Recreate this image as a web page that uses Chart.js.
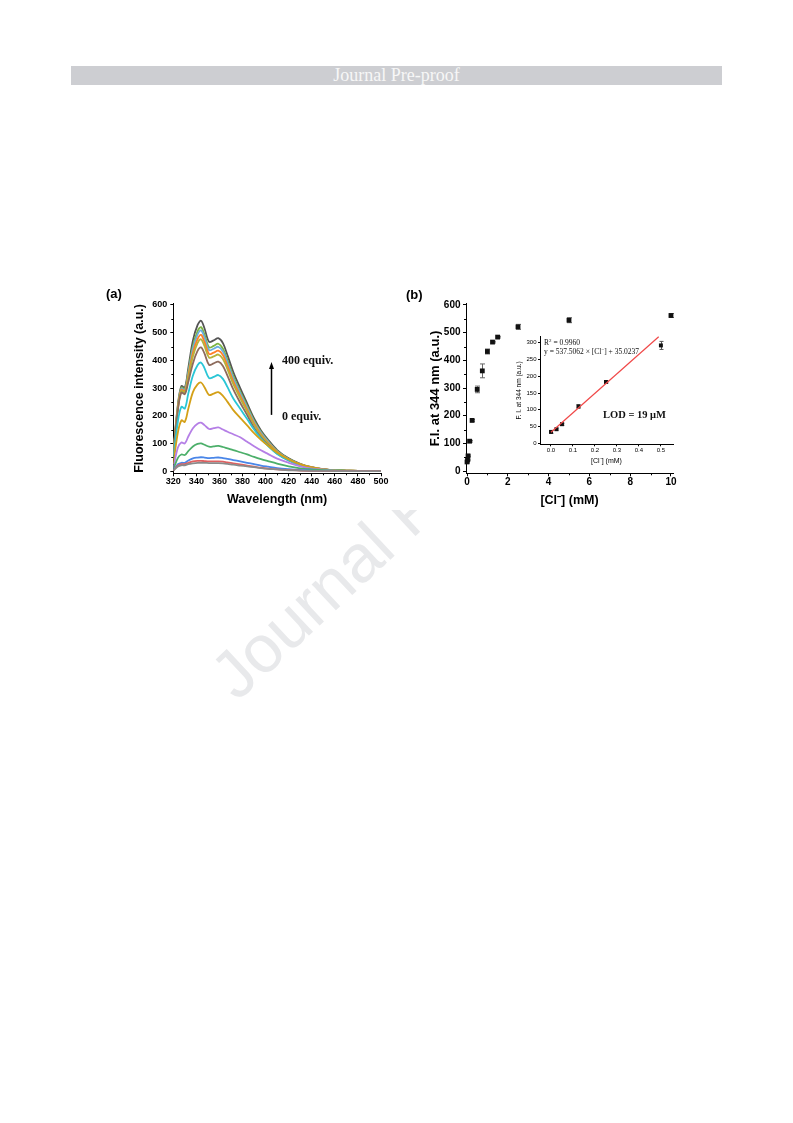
<!DOCTYPE html>
<html>
<head>
<meta charset="utf-8">
<script src="https://cdn.jsdelivr.net/npm/chart.js@4/dist/chart.umd.min.js"></script>
<style>
  body { margin: 0; background: #fff; }
  #page { position: relative; width: 793px; height: 1123px; overflow: hidden; background: #fff; }
  .abs { position: absolute; white-space: nowrap; line-height: 1; }
  #header { left: 71px; top: 66px; width: 651px; height: 19px; background: #cdced2; color: #f7f7f7;
    font: 18px "Liberation Serif", serif; text-align: center; line-height: 19px; }
  #watermark { left: 195px; top: 657px; font: 67px "Liberation Sans", Arial, sans-serif; color: #e8e9eb;
    transform-origin: 0 0; transform: rotate(-43deg); }
  #figure { left: 98px; top: 282px; width: 592px; height: 228px; background: #fff; }
  canvas { position: absolute; }
  .panel { font: bold 13px "Liberation Sans", Arial, sans-serif; transform: translateY(-50%); }
  .serif { font-family: "Liberation Serif", serif; color: #111; transform: translateY(-50%); }
</style>
</head>
<body>
<div id="page">
  <div id="header" class="abs">Journal Pre-proof</div>
  <div id="watermark" class="abs">Journal Pre-proof</div>
  <div id="figure" class="abs"></div>

  <canvas id="chartA" width="300" height="227" style="left:100px; top:280px;"></canvas>
  <canvas id="chartB" width="300" height="228" style="left:395px; top:280px;"></canvas>
  <canvas id="chartInset" width="180" height="135" style="left:500px; top:330px;"></canvas>

  <div class="abs panel" style="left:106px; top:293px;">(a)</div>
  <div class="abs panel" style="left:406px; top:294px;">(b)</div>

  <div class="abs serif" style="left:282px; top:360px; font-size:12px; font-weight:bold;">400 equiv.</div>
  <div class="abs serif" style="left:282px; top:416px; font-size:12px; font-weight:bold;">0 equiv.</div>

  <div class="abs serif" style="left:544px; top:342px; font-size:7.5px;">R<sup style="font-size:5px">2</sup> = 0.9960</div>
  <div class="abs serif" style="left:544px; top:351px; font-size:7.5px;">y = 537.5062 × [Cl<sup style="font-size:5px">−</sup>] + 35.0237</div>
  <div class="abs serif" style="left:603px; top:415px; font-size:10.5px; font-weight:bold;">LOD = 19 μM</div>
</div>

<script>
// (a) emission spectra, one curve per amount of Cl- added
const wavelengths = [320, 324, 327, 330, 333, 337, 341, 344, 347, 351, 355, 359, 363, 367, 372,
                     378, 384, 390, 396, 402, 410, 420, 430, 440, 450, 460, 470, 480, 490, 500];

const eq0   = [2, 17, 21, 21, 25, 28, 30, 30, 30, 29, 29, 29, 28, 26, 23, 20, 17, 14, 11, 8, 6, 3, 2, 1, 1, 0, 0, 0, 0, 0];
const eq1   = [2, 20, 25, 25, 30, 35, 37, 37, 36, 35, 35, 35, 34, 31, 28, 24, 20, 16, 12, 9, 6, 4, 2, 1, 1, 0, 0, 0, 0, 0];
const eq2   = [3, 25, 30, 30, 38, 46, 49, 50, 49, 47, 48, 49, 47, 44, 40, 35, 30, 25, 20, 16, 11, 7, 4, 2, 1, 1, 0, 0, 0, 0];
const eq5   = [5, 48, 60, 58, 72, 89, 98, 100, 95, 88, 89, 91, 87, 82, 76, 68, 60, 51, 43, 36, 27, 17, 10, 6, 3, 2, 1, 0, 0, 0];
const eq10  = [10, 85, 103, 100, 125, 155, 171, 175, 166, 152, 155, 158, 150, 142, 133, 122, 106, 90, 75, 62, 45, 30, 17, 9, 5, 2, 1, 1, 0, 0];
const eq20  = [25, 140, 183, 178, 225, 285, 313, 320, 303, 275, 280, 285, 272, 250, 220, 192, 165, 137, 113, 92, 66, 42, 24, 13, 6, 3, 1, 1, 0, 0];
const eq30  = [45, 180, 232, 226, 280, 345, 382, 392, 372, 336, 340, 347, 333, 303, 262, 225, 188, 150, 117, 91, 62, 38, 21, 11, 5, 3, 1, 1, 0, 0];
const eq40  = [58, 221, 284, 278, 322, 389, 434, 447, 425, 384, 389, 395, 380, 344, 295, 247, 202, 156, 121, 94, 63, 38, 21, 12, 6, 3, 1, 1, 0, 0];
const eq50  = [61, 226, 290, 284, 337, 414, 462, 476, 452, 410, 414, 421, 405, 367, 314, 263, 215, 167, 129, 100, 67, 40, 23, 12, 6, 3, 2, 1, 0, 0];
const eq60  = [63, 229, 294, 288, 345, 428, 477, 492, 467, 423, 428, 435, 419, 379, 324, 272, 222, 172, 133, 103, 69, 42, 24, 13, 6, 3, 2, 1, 0, 0];
const eq100 = [65, 232, 298, 292, 353, 442, 493, 508, 483, 437, 442, 449, 432, 391, 335, 281, 229, 178, 138, 107, 71, 43, 24, 13, 6, 3, 2, 1, 1, 0];
const eq200 = [67, 236, 302, 296, 360, 452, 505, 520, 494, 447, 452, 460, 442, 400, 343, 287, 235, 182, 141, 109, 73, 44, 25, 13, 6, 3, 2, 1, 1, 0];
const eq400 = [70, 240, 307, 301, 372, 472, 527, 543, 516, 467, 472, 480, 462, 418, 358, 300, 245, 190, 147, 114, 76, 46, 26, 14, 7, 3, 2, 1, 1, 0];

const spectra = [eq0, eq1, eq2, eq5, eq10, eq20, eq30, eq40, eq50, eq60, eq100, eq200, eq400];
const spectraColors = ['#8a8a8a', '#e06060', '#4a86e8', '#4caf6a', '#b57fe6', '#d4a017', '#2ac6d6',
                       '#8d6b5c', '#b8b23a', '#ff7f27', '#6aaee0', '#7cb342', '#555555'];

// (b) F.I. at 344 nm against [Cl-]
const clConc = [0, 0.025, 0.05, 0.125, 0.25, 0.5, 0.75, 1.0, 1.25, 1.5, 2.5, 5, 10];
const fiValues = [33, 40, 55, 108, 183, 295, 362, 432, 466, 484, 521, 545, 562];
const fiErrors = [4, 3, 3, 3, 3, 12, 25, 9, 3, 3, 9, 9, 7];

// inset: linear range
const insetConc = [0, 0.025, 0.05, 0.125, 0.25, 0.5];
const insetValues = [34, 42, 57, 110, 183, 292];
const insetErrors = [4, 3, 3, 5, 3, 12];
const fitX = [0, 0.49];
const fitY = [33, 318];

// tick marks
const ticksA = { x: [330, 350, 370, 390, 410, 430, 450, 470, 490], y: [50, 150, 250, 350, 450, 550] };
const ticksB = { x: [1, 3, 5, 7, 9], y: [50, 150, 250, 350, 450, 550] };

const SANS = '"Liberation Sans", Arial, sans-serif';
Chart.defaults.font.family = SANS;
Chart.defaults.color = '#000';

const minorTicks = {
  id: 'minorTicks',
  afterDraw(chart, args, opts) {
    const { ctx, chartArea, scales } = chart;
    ctx.save();
    ctx.strokeStyle = '#000';
    ctx.lineWidth = 1;
    ctx.beginPath();
    (opts.x || []).forEach(v => {
      const px = Math.round(scales.x.getPixelForValue(v)) + 0.5;
      ctx.moveTo(px, chartArea.bottom);
      ctx.lineTo(px, chartArea.bottom + opts.len);
    });
    (opts.y || []).forEach(v => {
      const py = Math.round(scales.y.getPixelForValue(v)) + 0.5;
      ctx.moveTo(chartArea.left, py);
      ctx.lineTo(chartArea.left - opts.len, py);
    });
    ctx.stroke();
    ctx.restore();
  }
};

const errorBars = {
  id: 'errorBars',
  beforeDatasetsDraw(chart, args, opts) {
    const { ctx, scales } = chart;
    chart.data.datasets.forEach(ds => {
      if (!ds.errors) return;
      ctx.save();
      ctx.strokeStyle = opts.color;
      ctx.lineWidth = 1;
      ds.data.forEach((p, i) => {
        const x = Math.round(scales.x.getPixelForValue(p.x)) + 0.5;
        const y1 = scales.y.getPixelForValue(p.y - ds.errors[i]);
        const y2 = scales.y.getPixelForValue(p.y + ds.errors[i]);
        ctx.beginPath();
        ctx.moveTo(x, y1); ctx.lineTo(x, y2);
        ctx.moveTo(x - opts.cap, y1); ctx.lineTo(x + opts.cap, y1);
        ctx.moveTo(x - opts.cap, y2); ctx.lineTo(x + opts.cap, y2);
        ctx.stroke();
      });
      ctx.restore();
    });
  }
};

const arrow = {
  id: 'arrow',
  afterDraw(chart, args, opts) {
    const { ctx, scales } = chart;
    const x = Math.round(scales.x.getPixelForValue(opts.x)) + 0.5;
    const yFrom = scales.y.getPixelForValue(opts.from);
    const yTo = scales.y.getPixelForValue(opts.to);
    ctx.save();
    ctx.strokeStyle = '#000';
    ctx.fillStyle = '#000';
    ctx.lineWidth = 1.5;
    ctx.beginPath();
    ctx.moveTo(x, yFrom);
    ctx.lineTo(x, yTo + 5);
    ctx.stroke();
    ctx.beginPath();
    ctx.moveTo(x, yTo);
    ctx.lineTo(x - 2.5, yTo + 7);
    ctx.lineTo(x + 2.5, yTo + 7);
    ctx.closePath();
    ctx.fill();
    ctx.restore();
  }
};

function axisStyle(o) {
  return {
    type: 'linear',
    min: o.min,
    max: o.max,
    afterFit: s => {
      if (o.width !== undefined) s.width = o.width;
      if (o.height !== undefined) s.height = o.height;
      s.paddingLeft = s.paddingRight = s.paddingTop = s.paddingBottom = 0;
    },
    border: { display: true, color: '#000', width: 1 },
    grid: { display: true, drawOnChartArea: false, drawTicks: true, tickLength: o.tick, color: '#000' },
    ticks: {
      stepSize: o.step, includeBounds: false, autoSkip: false, maxRotation: 0,
      padding: o.pad, color: '#000',
      font: { family: SANS, size: o.tickSize, weight: o.tickWeight || 'bold' },
      callback: o.fmt || (v => v)
    },
    title: {
      display: true, text: o.title, color: '#000', padding: 0,
      font: { family: SANS, size: o.titleSize, weight: o.titleWeight || 'bold' }
    }
  };
}

new Chart(document.getElementById('chartA'), {
  type: 'line',
  data: {
    datasets: spectra.map((vals, k) => ({
      data: wavelengths.map((w, i) => ({ x: w, y: vals[i] })),
      borderColor: spectraColors[k],
      borderWidth: 1.8,
      pointRadius: 0,
      tension: 0.35,
      fill: false
    }))
  },
  options: {
    responsive: false,
    animation: false,
    layout: { padding: { left: 32.5, top: 23.6, right: 19, bottom: 0 } },
    scales: {
      x: axisStyle({ min: 320, max: 500, step: 20, height: 33.7, tick: 3, pad: 0, tickSize: 9,
                     title: 'Wavelength (nm)', titleSize: 12.5 }),
      y: axisStyle({ min: -8, max: 605, step: 100, width: 40.8, tick: 3, pad: 3, tickSize: 9,
                     title: 'Fluorescence intensity (a.u.)', titleSize: 12.5 })
    },
    plugins: {
      legend: { display: false },
      tooltip: { enabled: false },
      minorTicks: { x: ticksA.x, y: ticksA.y, len: 2 },
      arrow: { x: 404.7, from: 203, to: 394 }
    }
  },
  plugins: [minorTicks, arrow]
});

new Chart(document.getElementById('chartB'), {
  type: 'scatter',
  data: {
    datasets: [{
      data: clConc.map((c, i) => ({ x: c, y: fiValues[i] })),
      errors: fiErrors,
      pointStyle: 'rect',
      pointRadius: 3.4,
      borderWidth: 0,
      backgroundColor: '#111'
    }]
  },
  options: {
    responsive: false,
    animation: false,
    clip: false,
    layout: { padding: { left: 32.2, top: 23.6, right: 22, bottom: 0 } },
    scales: {
      x: axisStyle({ min: -0.05, max: 10.1, step: 2, height: 34.7, tick: 3, pad: 0, tickSize: 10,
                     title: '[Cl⁻] (mM)', titleSize: 12.5 }),
      y: axisStyle({ min: -8, max: 605, step: 100, width: 38.8, tick: 3, pad: 2.5, tickSize: 10,
                     title: 'F.I. at 344 nm (a.u.)', titleSize: 13 })
    },
    plugins: {
      legend: { display: false },
      tooltip: { enabled: false },
      minorTicks: { x: ticksB.x, y: ticksB.y, len: 2 },
      errorBars: { color: '#666', cap: 2.5 }
    }
  },
  plugins: [minorTicks, errorBars]
});

new Chart(document.getElementById('chartInset'), {
  type: 'scatter',
  data: {
    datasets: [{
      data: fitX.map((c, i) => ({ x: c, y: fitY[i] })),
      showLine: true,
      borderColor: '#f04848',
      borderWidth: 1.2,
      pointRadius: 0
    }, {
      data: insetConc.map((c, i) => ({ x: c, y: insetValues[i] })),
      errors: insetErrors,
      pointStyle: 'rect',
      pointRadius: 2.8,
      borderWidth: 0,
      backgroundColor: '#111'
    }]
  },
  options: {
    responsive: false,
    animation: false,
    clip: false,
    layout: { padding: { left: 15.1, top: 6.7, right: 7, bottom: 0 } },
    scales: {
      x: axisStyle({ min: -0.05, max: 0.555, step: 0.1, height: 20.7, tick: 2, pad: 0, tickSize: 6,
                     tickWeight: 'normal', fmt: v => v.toFixed(1),
                     title: '[Cl⁻] (mM)', titleSize: 7, titleWeight: 'normal' }),
      y: axisStyle({ min: -3, max: 318, step: 50, width: 24.9, tick: 2, pad: 1.5, tickSize: 6,
                     tickWeight: 'normal', title: 'F. I. at 344 nm (a.u.)', titleSize: 6.5, titleWeight: 'normal' })
    },
    plugins: {
      legend: { display: false },
      tooltip: { enabled: false },
      errorBars: { color: '#555', cap: 2 }
    }
  },
  plugins: [errorBars]
});
</script>
</body>
</html>
